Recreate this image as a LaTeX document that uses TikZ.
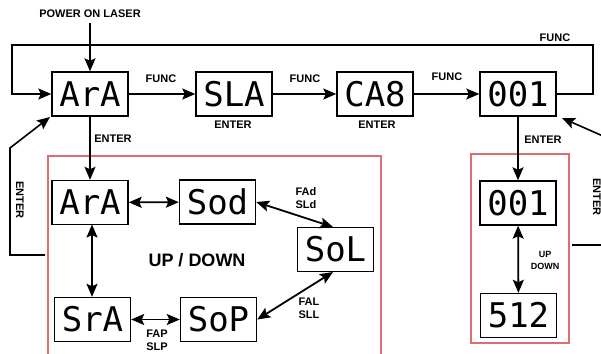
\documentclass[tikz,border=0pt]{standalone}
\usepackage{fontspec}
\setmainfont{Liberation Sans}
\newfontfamily\dispfont{DejaVu Sans Mono}
\usetikzlibrary{arrows.meta}
\definecolor{redline}{RGB}{222,110,110}
\tikzset{
  tip/.tip={Stealth[length=13pt,width=11pt,inset=2.5pt]},
  disp/.style={draw, line width=1.4pt, minimum width=76pt, minimum height=44pt, inner sep=0pt,
    font=\dispfont\fontsize{34}{34}\selectfont},
  lbl/.style={font=\bfseries\fontsize{11}{13}\selectfont, inner sep=0pt, align=center},
  conn/.style={line width=1.8pt, -tip},
  bconn/.style={line width=1.8pt, tip-tip},
  loop/.style={line width=1.6pt},
  redbox/.style={draw=redline, line width=1.2pt}
}
\begin{document}
\begin{tikzpicture}[x=1pt,y=-1pt]
\useasboundingbox (0,0) rectangle (601,353);
\clip (0,0) rectangle (601,353);
% red frames
\draw[redbox] (48,156) rectangle (381,370);
\draw[redbox] (471,154) rectangle (569,343);
% top row
\node[disp] (ara) at (90,94) {ArA};
\node[disp] (sla) at (234,94) {SLA};
\node[disp] (ca8) at (375,94) {CA8};
\node[disp] (n001) at (518,94) {001};
% left group
\node[disp] (ara2) at (90,202.5) {ArA};
\node[disp] (sod) at (217.5,202) {Sod};
\node[disp] (sol) at (335.5,249.5) {SoL};
\node[disp] (sra) at (92.5,319.5) {SrA};
\node[disp] (sop) at (218.5,319.5) {SoP};
% right group
\node[disp] (n001b) at (518,203) {001};
\node[disp] (n512) at (518.5,315.5) {512};
% labels
\node[lbl] (power) at (90,14) {POWER ON LASER};
\node[lbl] (f1) at (161,79) {FUNC};
\node[lbl] (f2) at (305,79) {FUNC};
\node[lbl] (f3) at (447,77) {FUNC};
\node[lbl] (f4) at (555,38) {FUNC};
\node[lbl] (e1) at (233,125) {ENTER};
\node[lbl] (e2) at (377,125) {ENTER};
\node[lbl] (e3) at (113,139) {ENTER};
\node[lbl] (e4) at (543,140) {ENTER};
\node[lbl, rotate=-90] (e5) at (20,200) {ENTER};
\node[lbl, rotate=-90] (e6) at (597,197) {ENTER};
\node[lbl] (fad) at (306,198.5) {FAd\\SLd};
\node[lbl] (fal) at (309,308.5) {FAL\\SLL};
\node[lbl] (fap) at (157,340) {FAP\\SLP};
\node[lbl, font=\bfseries\fontsize{9}{12}\selectfont] (ud) at (545,260) {UP\\DOWN};
\node[font=\bfseries\fontsize{18}{18}\selectfont, inner sep=0pt] (updown) at (197,260) {UP / DOWN};
% coordinates
\coordinate (pw) at (90,23);
\coordinate (tr1) at (593,94);
\coordinate (tr2) at (593,45);
\coordinate (tl1) at (12,45);
\coordinate (tl2) at (12,94);
\coordinate (ls) at (45,255);
\coordinate (l1) at (10,255);
\coordinate (l2) at (10,148);
\coordinate (lt) at (50,117);
\coordinate (rs) at (572,245);
\coordinate (r1) at (612,245);
\coordinate (r2) at (612,140);
\coordinate (rt) at (562,118);
\coordinate (solt) at (333,227);
\coordinate (solb) at (333,272);
\coordinate (vtop) at (92,224.5);
% connectors
\draw[conn] (pw) -- (ara.north);
\draw[loop, -tip] (n001.east) -- (tr1) -- (tr2) -- (tl1) -- (tl2) -- (ara.west);
\draw[conn] (ara) -- (sla);
\draw[conn] (sla) -- (ca8);
\draw[conn] (ca8) -- (n001);
\draw[conn] (ara.south) -- (ara2.north);
\draw[conn] (n001.south) -- (n001b.north);
\draw[loop, -tip] (ls) -- (l1) -- (l2) -- (lt);
\draw[loop, -tip] (rs) -- (r1) -- (r2) -- (rt);
\draw[bconn] (ara2) -- (sod);
\draw[bconn] (vtop) -- (vtop |- sra.north);
\draw[bconn] (sra) -- (sop);
\draw[bconn] (sod.east) -- (solt);
\draw[bconn] (sop.east) -- (solb);
\draw[bconn] (n001b) -- (n512);
\end{tikzpicture}
\end{document}
